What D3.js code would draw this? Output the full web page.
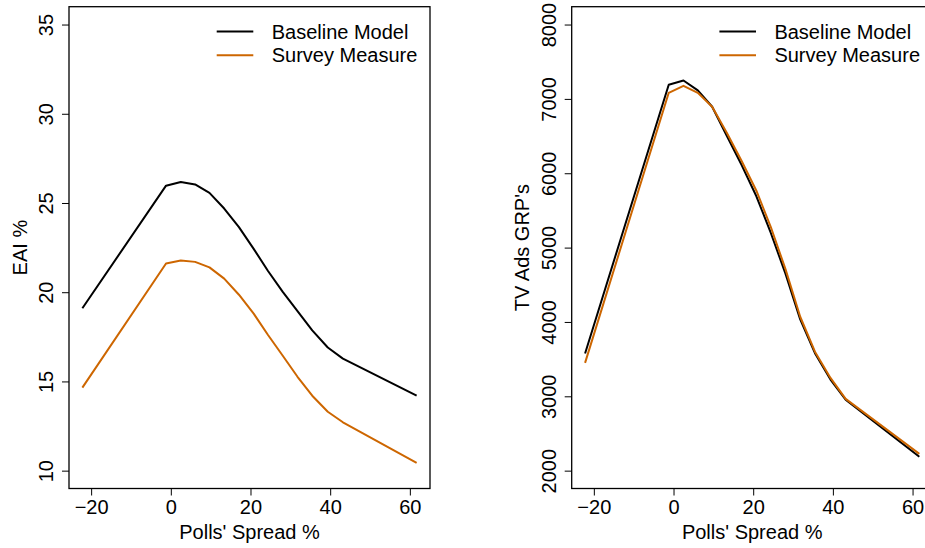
<!DOCTYPE html>
<html>
<head>
<meta charset="utf-8">
<script src="https://cdn.jsdelivr.net/npm/d3@7"></script>
<style>
  html, body { margin: 0; padding: 0; background: #fff; overflow: hidden; }
  svg { display: block; font-family: "Liberation Sans", Arial, Helvetica, sans-serif; }
</style>
</head>
<body>
<svg id="chart" width="925" height="548"></svg>
<script>
// ---- Data ----
const spread = [-22.2, -1.2, 2.5, 6.1, 9.7, 13.4, 17.1, 20.8, 24.4, 28.1, 31.8, 35.5, 39.4, 43.2, 61.7];
const eaiBaseline = [19.1, 25.97, 26.18, 26.04, 25.57, 24.69, 23.65, 22.43, 21.19, 20.02, 18.94, 17.86, 16.9, 16.28, 14.2];
const eaiSurvey   = [14.65, 21.61, 21.78, 21.70, 21.39, 20.76, 19.86, 18.80, 17.60, 16.44, 15.26, 14.20, 13.3, 12.71, 10.43];
const grpBaseline = [3576, 7191, 7247, 7115, 6894, 6500, 6110, 5690, 5200, 4650, 4035, 3580, 3225, 2955, 2188];
const grpSurvey   = [3449, 7082, 7176, 7082, 6894, 6541, 6165, 5765, 5280, 4710, 4070, 3600, 3247, 2965, 2226];
const xTicks = [-20, 0, 20, 40, 60];
const eaiTicks = [10, 15, 20, 25, 30, 35];
const grpTicks = [2000, 3000, 4000, 5000, 6000, 7000, 8000];
const seriesNames = ["Baseline Model", "Survey Measure"];
const seriesColors = ["#000000", "#CD6600"];
const xLabel = "Polls' Spread %";

const svg = d3.select("#chart");
svg.append("rect").attr("width", 925).attr("height", 548).attr("fill", "#fff");

function pad(ext) { const d = (ext[1] - ext[0]) * 0.04; return [ext[0] - d, ext[1] + d]; }

function panel(box, ylim, yTicks, yLabel, s1, s2, yTitleX) {
  const g = svg.append("g");
  const x = d3.scaleLinear().domain(pad(d3.extent(spread))).range([box.l, box.r]);
  const y = d3.scaleLinear().domain(pad(ylim)).range([box.b, box.t]);

  // x axis
  const xa = g.append("g").attr("transform", `translate(0,${box.b})`)
    .call(d3.axisBottom(x).tickValues(xTicks).tickSize(7).tickFormat(d3.format("d")));
  xa.select(".domain").remove();
  xa.selectAll(".tick line").attr("stroke", "#000").attr("stroke-width", 1);
  xa.selectAll(".tick text").attr("y", 25).attr("dy", null)
    .attr("font-size", 20).attr("fill", "#000").attr("font-family", "Liberation Sans, Arial, sans-serif");

  // y axis
  const ya = g.append("g").attr("transform", `translate(${box.l},0)`)
    .call(d3.axisLeft(y).tickValues(yTicks).tickSize(7).tickFormat(d3.format("d")));
  ya.select(".domain").remove();
  ya.selectAll(".tick line").attr("stroke", "#000").attr("stroke-width", 1);
  ya.selectAll(".tick text").attr("x", null).attr("dy", null)
    .attr("transform", "translate(-16,0) rotate(-90)")
    .attr("text-anchor", "middle")
    .attr("font-size", 20).attr("fill", "#000").attr("font-family", "Liberation Sans, Arial, sans-serif");

  // box
  g.append("rect").attr("x", box.l).attr("y", box.t)
    .attr("width", box.r - box.l).attr("height", box.b - box.t)
    .attr("fill", "none").attr("stroke", "#000").attr("stroke-width", 1.3);

  // lines
  const line = d3.line().x((d, i) => x(spread[i])).y(d => y(d));
  [s1, s2].forEach((s, k) => {
    g.append("path").datum(s).attr("d", line)
      .attr("fill", "none").attr("stroke", seriesColors[k]).attr("stroke-width", 2)
      .attr("stroke-linejoin", "round");
  });

  // titles
  g.append("text").attr("x", (box.l + box.r) / 2).attr("y", 539)
    .attr("text-anchor", "middle").attr("font-size", 20).text(xLabel);
  g.append("text").attr("transform", `translate(${yTitleX},${(box.t + box.b) / 2}) rotate(-90)`)
    .attr("text-anchor", "middle").attr("font-size", 20).text(yLabel);

  // legend
  const lx = box.l + 147.7;
  seriesNames.forEach((n, k) => {
    const ly = 31.5 + k * 23.8;
    g.append("line").attr("x1", lx).attr("x2", lx + 36.6).attr("y1", ly).attr("y2", ly)
      .attr("stroke", seriesColors[k]).attr("stroke-width", 2);
    g.append("text").attr("x", lx + 55).attr("y", ly + 7).attr("font-size", 20).text(n);
  });
}

panel({l: 69, r: 430, t: 6.7, b: 488.5}, [10, 35], eaiTicks, "EAI %", eaiBaseline, eaiSurvey, 27);
panel({l: 571.7, r: 932.7, t: 6.7, b: 488.5}, [2000, 8000], grpTicks, "TV Ads GRP's", grpBaseline, grpSurvey, 528.5);
</script>
</body>
</html>
